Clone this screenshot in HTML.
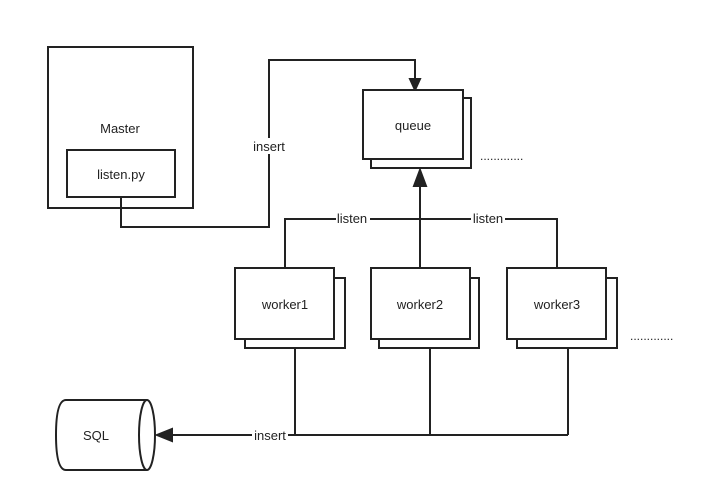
<!DOCTYPE html>
<html><head><style>body{margin:0;background:#fff}svg{display:block}</style></head><body>
<svg width="720" height="503" xmlns="http://www.w3.org/2000/svg" font-family="Liberation Sans, sans-serif" font-size="13" fill="none" stroke="#222" stroke-width="2">
<rect x="48" y="47" width="145" height="161"/>
<rect x="67" y="150" width="108" height="47"/>
<text x="120" y="133" text-anchor="middle" fill="#222" stroke="none">Master</text>
<text x="121" y="179" text-anchor="middle" fill="#222" stroke="none">listen.py</text>
<polyline points="121,197 121,227 269,227 269,60 415,60 415,80"/>
<polygon points="410,79 420,79 415,90" fill="#222"/>
<rect x="265" y="138" width="36" height="16" fill="#fff" stroke="none"/>
<text x="269" y="151" text-anchor="middle" fill="#222" stroke="none">insert</text>
<rect x="371" y="98" width="100" height="70" fill="#fff"/>
<rect x="363" y="90" width="100" height="69" fill="#fff"/>
<text x="413" y="130" text-anchor="middle" fill="#222" stroke="none">queue</text>
<text x="480" y="160" fill="#222" stroke="none" font-size="12">.............</text>
<line x1="420" y1="268" x2="420" y2="184"/>
<polygon points="414,186 426,186 420,170" fill="#222"/>
<polyline points="285,268 285,219 557,219 557,268"/>
<rect x="336" y="211" width="34" height="16" fill="#fff" stroke="none"/>
<text x="352" y="223" text-anchor="middle" fill="#222" stroke="none">listen</text>
<rect x="471" y="211" width="34" height="16" fill="#fff" stroke="none"/>
<text x="488" y="223" text-anchor="middle" fill="#222" stroke="none">listen</text>
<rect x="245" y="278" width="100" height="70" fill="#fff"/>
<rect x="235" y="268" width="99" height="71" fill="#fff"/>
<text x="285" y="309" text-anchor="middle" fill="#222" stroke="none">worker1</text>
<rect x="379" y="278" width="100" height="70" fill="#fff"/>
<rect x="371" y="268" width="99" height="71" fill="#fff"/>
<text x="420" y="309" text-anchor="middle" fill="#222" stroke="none">worker2</text>
<rect x="517" y="278" width="100" height="70" fill="#fff"/>
<rect x="507" y="268" width="99" height="71" fill="#fff"/>
<text x="557" y="309" text-anchor="middle" fill="#222" stroke="none">worker3</text>
<text x="630" y="340" fill="#222" stroke="none" font-size="12">.............</text>
<line x1="295" y1="348" x2="295" y2="435"/>
<line x1="430" y1="348" x2="430" y2="435"/>
<line x1="568" y1="348" x2="568" y2="435"/>
<line x1="568" y1="435" x2="170" y2="435"/>
<polygon points="172,429 172,441 157,435" fill="#222"/>
<rect x="252" y="428" width="36" height="16" fill="#fff" stroke="none"/>
<text x="270" y="440" text-anchor="middle" fill="#222" stroke="none">insert</text>
<path d="M66,400 L147,400 M66,470 L147,470 M66,400 Q56,400 56,435 Q56,470 66,470"/>
<ellipse cx="147" cy="435" rx="8" ry="35"/>
<text x="96" y="440" text-anchor="middle" fill="#222" stroke="none">SQL</text>
</svg>
</body></html>
